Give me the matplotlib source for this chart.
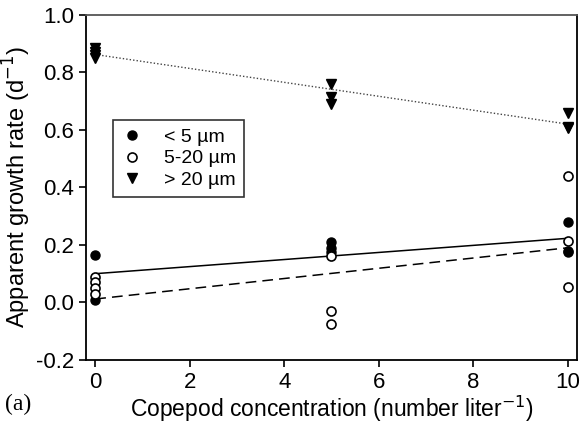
import numpy as np
import matplotlib
matplotlib.use('agg')
import matplotlib.pyplot as plt

plt.rcParams['font.family'] = ['Liberation Sans', 'DejaVu Sans']

# < 5 um (filled circles)
x_small = [0, 0, 5, 5, 5, 10, 10, 10]
y_small = [0.165, 0.01, 0.21, 0.19, 0.175, 0.28, 0.18, 0.175]
# 5-20 um (open circles)
x_mid = [0, 0, 0, 0, 5, 5, 5, 10, 10, 10]
y_mid = [0.09, 0.07, 0.05, 0.03, 0.16, -0.03, -0.075, 0.44, 0.215, 0.055]
# > 20 um (triangles)
x_big = [0, 0, 0, 0, 5, 5, 5, 10, 10, 10]
y_big = [0.885, 0.87, 0.86, 0.85, 0.76, 0.715, 0.69, 0.66, 0.61, 0.605]

# fitted lines: intercept, slope
fit_small = (0.10, 0.0123)
fit_mid = (0.012, 0.0178)
fit_big = (0.862, -0.0242)

fig = plt.figure(figsize=(5.8, 4.23), dpi=100)
ax = fig.add_axes([0.148, 0.149, 0.847, 0.816])

xl = np.array([0, 10])
ax.plot(xl, fit_small[0] + fit_small[1] * xl, color='black', lw=1.1, ls='-')
ax.plot(xl, fit_mid[0] + fit_mid[1] * xl, color='black', lw=1.1, ls=(0, (7, 4)))
ax.plot(xl, fit_big[0] + fit_big[1] * xl, color='#444444', lw=1.0, ls=(0, (1, 1.5)))

ax.plot(x_small, y_small, 'o', color='black', ms=6.5, ls='none', label='< 5 \u00b5m')
ax.plot(x_mid, y_mid, 'o', mfc='white', mec='black', mew=1.2, ms=6.5, ls='none', label='5-20 \u00b5m')
ax.plot(x_big, y_big, 'v', color='black', ms=7.5, ls='none', label='> 20 \u00b5m')

ax.set_xlim(-0.2, 10.2)
ax.set_ylim(-0.2, 1.0)
ax.set_xticks([0, 2, 4, 6, 8, 10])
ax.set_yticks([-0.2, 0.0, 0.2, 0.4, 0.6, 0.8, 1.0])
ax.set_yticklabels(['-0.2', '0.0', '0.2', '0.4', '0.6', '0.8', '1.0'])
ax.tick_params(direction='out', length=5, width=1.2, labelsize=16, top=False, right=False)
for s in ax.spines.values():
    s.set_linewidth(1.3)
ax.spines['top'].set_color('#555555')

ax.set_xlabel('Copepod concentration (number liter$^{-1}$)', fontsize=16.5)
ax.set_ylabel('Apparent growth rate (d$^{-1}$)', fontsize=17)
ax.xaxis.set_label_coords(0.5, -0.098)
ax.yaxis.set_label_coords(-0.108, 0.5)

leg = ax.legend(loc='upper left', bbox_to_anchor=(0.055, 0.696), fontsize=14,
                frameon=True, fancybox=False, edgecolor='black', borderpad=0.42,
                handlelength=1.1, handletextpad=1.1, labelspacing=0.22,
                borderaxespad=0)
leg.get_frame().set_linewidth(1.2)

fig.text(0.008, 0.043, '(a)', fontsize=17, family='Liberation Serif', va='center')

fig.savefig('out.png', dpi=100)
